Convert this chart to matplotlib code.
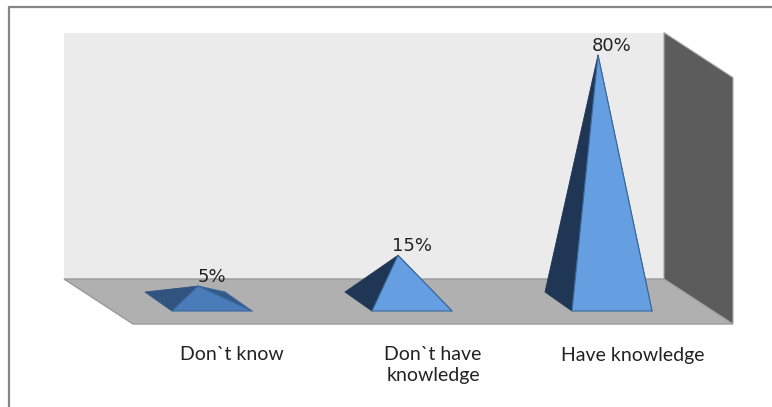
import matplotlib
matplotlib.use("Agg")
import matplotlib.pyplot as plt
from matplotlib.patches import Polygon

categories = ["Don`t know", "Don`t have\nknowledge", "Have knowledge"]
values = [5, 15, 80]
value_labels = ["5%", "15%", "80%"]
axis_max = 80

front_colors = ["#4a7cba", "#669ee2", "#669ee2"]
left_colors = ["#30547f", "#1f3654", "#1f3654"]
right_colors = ["#345a8a", "#1f3654", "#1f3654"]
edge_color = "#3a689c"

W, H = 772, 407
fig = plt.figure(figsize=(W / 100, H / 100), dpi=100, facecolor="white")
ax = fig.add_axes([0, 0, 1, 1])

# category spacing = 200 px, one percent = 3.08 px
PX_X, PX_Y = 200.0, 3.08
ax.set_xlim(-212 / PX_X, (W - 212) / PX_X)
ax.set_ylim((301.5 - H) / PX_Y, 301.5 / PX_Y)
ax.axis("off")

# depth of the 3-D box and of the pyramid base, in axis units
depth_x, depth_y = 69 / PX_X, 45 / PX_Y
half_w = 40 / PX_X
base_dx, base_dy = 27 / PX_X, 19 / PX_Y
apex_dx = 14 / PX_X
front_y = -9.5 / PX_Y

# box corners derived from the category span and the value axis
back_l, back_r = -0.74, 2.26
floor_back = (301.5 - 279) / PX_Y
top_back = floor_back + axis_max

ax.add_patch(Polygon([(back_l, floor_back), (back_r, floor_back),
                      (back_r, top_back), (back_l, top_back)],
                     fc="#ebebeb", ec="none", zorder=1))
ax.add_patch(Polygon([(back_l, floor_back), (back_r, floor_back),
                      (back_r + depth_x, floor_back - depth_y),
                      (back_l + depth_x, floor_back - depth_y)],
                     fc="#b0b0b0", ec="#9a9a9a", lw=1.0, zorder=2))
ax.add_patch(Polygon([(back_r, floor_back), (back_r, top_back),
                      (back_r + depth_x, top_back - depth_y),
                      (back_r + depth_x, floor_back - depth_y)],
                     fc="#5c5c5c", ec="#a8a8a8", lw=0.8, zorder=3))

for i, v in enumerate(values):
    fl = (i - half_w, front_y)
    fr = (i + half_w, front_y)
    bl = (fl[0] - base_dx, front_y + base_dy)
    br = (fr[0] - base_dx, front_y + base_dy)
    apex = (i - apex_dx, v)
    style = dict(ec=edge_color, lw=0.8, joinstyle="round", zorder=4)
    ax.add_patch(Polygon([apex, br, fr], fc=right_colors[i], **style))
    ax.add_patch(Polygon([bl, apex, fl], fc=left_colors[i], ec=left_colors[i],
                         lw=0.6, zorder=4))
    ax.add_patch(Polygon([fl, apex, fr], fc=front_colors[i], **style))
    ax.text(apex[0] + 0.068, v + 1.4, value_labels[i], ha="center", va="baseline",
            fontsize=13, color="#222222", family="DejaVu Sans", zorder=5)

label_centers = [232 / PX_X - 1.06, 433 / PX_X - 1.06, 633 / PX_X - 1.06]
for x, lab in zip(label_centers, categories):
    ax.text(x, (301.5 - 346.5) / PX_Y, lab, ha="center", va="top", fontsize=14,
            color="#222222", family="Lato", linespacing=1.27, zorder=5)

# outer chart frame
ax.plot([9 / W, 9 / W, 1], [0, 1 - 7 / H, 1 - 7 / H], transform=ax.transAxes,
        color="#868686", lw=1.6, clip_on=False, zorder=6)

fig.savefig("out.png", dpi=100)
